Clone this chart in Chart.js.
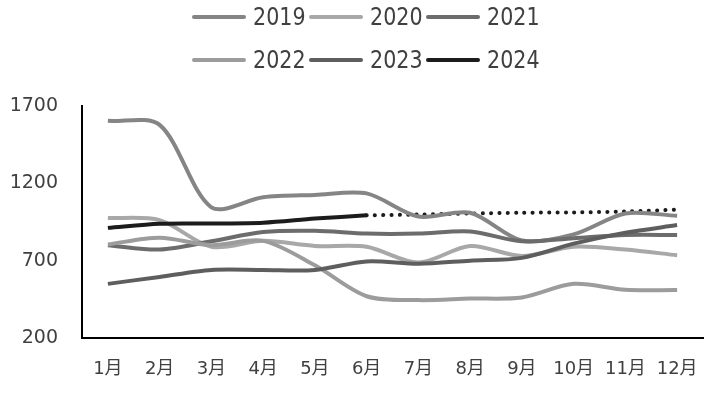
<!DOCTYPE html>
<html>
<head>
<meta charset="utf-8">
<script src="https://cdn.jsdelivr.net/npm/chart.js@4"></script>
<style>
  html, body { margin: 0; padding: 0; background: #fff; }
  #wrap { position: relative; width: 705px; height: 395px; }
  #chart { display: block; }
  #legend { position: absolute; left: 192px; top: 0; width: 420px; }
  .row { display: flex; align-items: center; height: 34px; }
  .row + .row { margin-top: 9px; }
  .item { display: flex; align-items: center; margin-right: 7px; }
  .swatch { width: 54px; height: 4px; border-radius: 2px; margin-right: 7px; }
  .label { display: inline-block; width: 49px; white-space: nowrap; }
  .label span { display: inline-block; font-family: "DejaVu Sans", sans-serif; font-size: 24px; color: #404040; transform: scaleX(0.86); transform-origin: left center; }
</style>
</head>
<body>
<div id="wrap">
  <canvas id="chart" width="705" height="395"></canvas>
  <div id="legend"></div>
</div>
<script>
const months = ["1月", "2月", "3月", "4月", "5月", "6月", "7月", "8月", "9月", "10月", "11月", "12月"];
const y2019 = [1604, 1578, 1045, 1110, 1125, 1135, 985, 1010, 830, 870, 1005, 990];
const y2020 = [976, 962, 790, 828, 795, 790, 688, 795, 730, 790, 772, 735];
const y2021 = [800, 772, 825, 885, 893, 875, 875, 888, 825, 845, 866, 866];
const y2022 = [805, 848, 800, 828, 670, 470, 445, 455, 462, 550, 512, 510];
const y2023 = [550, 595, 640, 640, 640, 695, 680, 700, 718, 810, 880, 930];
const y2024 = [912, 938, 940, 945, 972, 993, null, null, null, null, null, null];
// 2024 projection, dotted
const y2024dot = [null, null, null, null, null, 993, 998, 1005, 1010, 1012, 1018, 1030];
const yTicks = [200, 700, 1200, 1700];

const series = [
    { label: "2019", data: y2019, color: "#858585" },
    { label: "2020", data: y2020, color: "#a8a8a8" },
    { label: "2021", data: y2021, color: "#6c6c6c" },
    { label: "2022", data: y2022, color: "#9c9c9c" },
    { label: "2023", data: y2023, color: "#5e5e5e" },
    { label: "2024", data: y2024, color: "#1c1c1c" },
];

// LEYENDA EN HTML (dos filas de tres)
const legend = document.querySelector("#legend");
for (let r = 0; r < 2; r++) {
    const row = document.createElement("div");
    row.className = "row";
    series.slice(r * 3, r * 3 + 3).forEach((s) => {
        const item = document.createElement("div");
        item.className = "item";
        item.innerHTML = `<span class="swatch" style="background:${s.color}"></span><span class="label"><span>${s.label}</span></span>`;
        row.appendChild(item);
    });
    legend.appendChild(row);
}

const datasets = series.map((s, i) => ({
    label: s.label,
    data: s.data,
    borderColor: s.color,
    backgroundColor: s.color,
    borderWidth: 4,
    pointRadius: 0,
    tension: 0.3,
    spanGaps: false,
    order: 10 - i,
}));
datasets.push({
    label: "2024预测",
    data: y2024dot,
    borderColor: "#1c1c1c",
    borderWidth: 4,
    borderDash: [0.1, 8.2],
    borderCapStyle: "round",
    pointRadius: 0,
    tension: 0.3,
    order: 11,
});

// tamaños fijos de los ejes (Chart.js cuenta el padding dos veces)
function fitX(scale) {
    scale.paddingLeft = 0;
    scale.paddingRight = 0;
    scale.height = 57;
}
function fitY(scale) {
    scale.paddingTop = 0;
    scale.paddingBottom = 0;
    scale.width = 72;
}

const ctx = document.getElementById("chart").getContext("2d");
new Chart(ctx, {
    type: "line",
    data: { labels: months, datasets },
    options: {
        responsive: false,
        animation: false,
        layout: { padding: { top: 106, left: 10, right: 2, bottom: 0 } },
        plugins: { legend: { display: false }, tooltip: { enabled: false } },
        scales: {
            x: {
                offset: true,
                afterFit: fitX,
                grid: { display: false, drawTicks: false },
                border: { display: true, color: "#000", width: 2 },
                ticks: {
                    color: "#404040",
                    padding: 21,
                    maxRotation: 0,
                    autoSkip: false,
                    font: { family: "'DejaVu Sans', 'Noto Sans CJK SC'", size: 18 },
                },
            },
            y: {
                min: 200,
                max: 1700,
                afterFit: fitY,
                afterBuildTicks: (axis) => { axis.ticks = yTicks.map((v) => ({ value: v })); },
                grid: { display: false, drawTicks: false },
                border: { display: true, color: "#000", width: 2 },
                ticks: {
                    color: "#404040",
                    padding: 24,
                    callback: (v) => String(v),
                    font: { family: "'DejaVu Sans'", size: 19 },
                },
            },
        },
    },
});
</script>
</body>
</html>
